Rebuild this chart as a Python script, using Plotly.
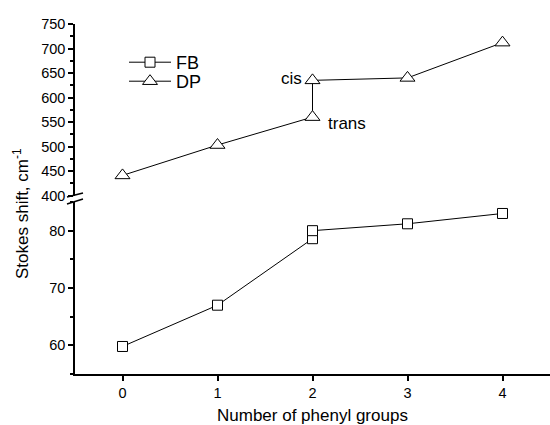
import plotly.graph_objects as go

# ---- data ----
x_groups = [0, 1, 2, 2, 3, 4]
fb_values = [59.8, 67.0, 78.6, 80.0, 81.2, 83.0]
dp_values = [441, 503, 560, 635, 640, 712]
x_ticks = [0, 1, 2, 3, 4]
fb_ticks = [60, 70, 80]
dp_ticks = [400, 450, 500, 550, 600, 650, 700, 750]

FONT = "Arial, Liberation Sans, sans-serif"

fig = go.Figure()
fig.add_trace(go.Scatter(
    x=x_groups, y=fb_values, name="FB", mode="lines+markers",
    line=dict(color="black", width=1),
    marker=dict(symbol="square", size=10, color="white", line=dict(color="black", width=1)),
    xaxis="x", yaxis="y", legend="legend"))
fig.add_trace(go.Scatter(
    x=x_groups, y=dp_values, name="DP", mode="lines+markers",
    line=dict(color="black", width=1),
    marker=dict(symbol="triangle-up", size=13, color="white", line=dict(color="black", width=1)),
    xaxis="x", yaxis="y2", legend="legend2"))

W, H = 550, 425
ml, mr, mt, mb = 75, 0, 24, 51
pw, ph = W - ml - mr, H - mt - mb

def px_x(p):
    return (p - ml) / pw

def px_y(p):
    return (H - mb - p) / ph

axis_common = dict(showline=True, linecolor="black", linewidth=1.5, ticks="outside",
                   ticklen=5, tickwidth=1.5, tickcolor="black", showgrid=False, zeroline=False,
                   tickfont=dict(family=FONT, size=14.5, color="black"))

legend_common = dict(xanchor="left", yanchor="top",
                     font=dict(family=FONT, size=18, color="black"),
                     bgcolor="rgba(0,0,0,0)", itemwidth=42)

fig.update_layout(
    width=W, height=H,
    margin=dict(l=ml, r=mr, t=mt, b=mb),
    paper_bgcolor="white", plot_bgcolor="white",
    showlegend=True,
    legend=dict(x=px_x(124), y=px_y(44), **legend_common),
    legend2=dict(x=px_x(124), y=px_y(63), **legend_common),
    xaxis=dict(range=[-0.5, 4.5], tickvals=x_ticks, anchor="y", **axis_common),
    yaxis=dict(range=[55, 85], domain=[0, px_y(202)], tickvals=fb_ticks,
               minor=dict(dtick=5, tick0=55, ticks="outside", ticklen=3, tickwidth=1.5, tickcolor="black"),
               anchor="x", **axis_common),
    yaxis2=dict(range=[400, 750], domain=[px_y(195.5), 1], tickvals=dp_ticks,
                minor=dict(dtick=25, tick0=400, ticks="outside", ticklen=3, tickwidth=1.5, tickcolor="black"),
                anchor="x", **axis_common),
)

# axis break marks
for (x0, y0, x1, y1) in [(67, 197, 83, 193), (67, 204, 83, 199)]:
    fig.add_shape(type="line", xref="paper", yref="paper",
                  x0=px_x(x0), y0=px_y(y0), x1=px_x(x1), y1=px_y(y1),
                  line=dict(color="black", width=1.5))

# titles
fig.add_annotation(text="Stokes shift, cm<sup>-1</sup>", xref="paper", yref="paper",
                   x=px_x(21), y=px_y(214), textangle=-90, showarrow=False,
                   xanchor="center", yanchor="middle",
                   font=dict(family=FONT, size=17, color="black"))
fig.add_annotation(text="Number of phenyl groups", xref="paper", yref="paper",
                   x=0.5, y=px_y(415), showarrow=False, xanchor="center", yanchor="middle",
                   font=dict(family=FONT, size=17, color="black"))

# cis / trans labels
fig.add_annotation(text="cis", x=x_groups[3], y=dp_values[3], xref="x", yref="y2",
                   xanchor="right", yanchor="middle", xshift=-9, yshift=2, showarrow=False,
                   font=dict(family=FONT, size=17, color="black"))
fig.add_annotation(text="trans", x=x_groups[2], y=dp_values[2], xref="x", yref="y2",
                   xanchor="left", yanchor="middle", xshift=13, yshift=-6, showarrow=False,
                   font=dict(family=FONT, size=17, color="black"))

fig.write_html("out.html")
